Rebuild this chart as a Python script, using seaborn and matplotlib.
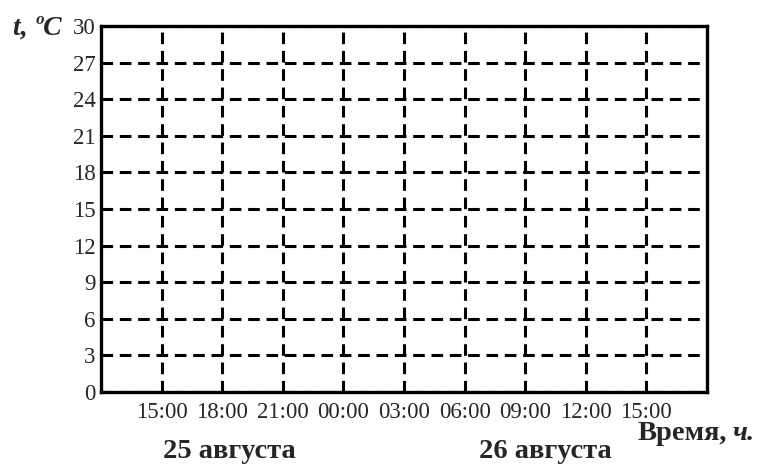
import numpy as np
import pandas as pd
import matplotlib
matplotlib.use('Agg')
import matplotlib.pyplot as plt
import seaborn as sns

# Данные графика (пустая сетка для заполнения)
time_labels = ['15:00', '18:00', '21:00', '00:00', '03:00', '06:00', '09:00', '12:00', '15:00']
time_pos = [1, 2, 3, 4, 5, 6, 7, 8, 9]
temp_ticks = [0, 3, 6, 9, 12, 15, 18, 21, 24, 27, 30]
day_labels = ['25 августа', '26 августа']
day_pos = [229, 545]  # центр подписи дня, px по горизонтали

sns.set_style('white')
plt.rcParams['font.family'] = ['Liberation Serif', 'DejaVu Serif']

fig = plt.figure(figsize=(7.61, 4.68), dpi=100)
ax = fig.add_axes([101 / 761, 1 - 392 / 468, (707 - 101) / 761, (392 - 26) / 468])

# пустой ряд температур — только сетка
df = pd.DataFrame({'Время': pd.Series(dtype=float), 't': pd.Series(dtype=float)})
sns.lineplot(data=df, x='Время', y='t', ax=ax)

ax.set_xlim(0, 10)
ax.set_ylim(0, 30)
ax.set_xticks(time_pos)
ax.set_xticklabels(time_labels, fontsize=16.5)
ax.set_yticks(temp_ticks)
ax.set_yticklabels([str(v) for v in temp_ticks], fontsize=16.5)
ax.tick_params(axis='both', length=0, pad=4)
ax.tick_params(axis='x', pad=7)
ax.set_xlabel('')
ax.set_ylabel('')

ax.grid(True, color='black', linestyle=(0, (3.8, 2.2)), linewidth=2.2)
for s in ax.spines.values():
    s.set_visible(True)
    s.set_color('black')
    s.set_linewidth(2.4)

# подписи осей
fig.text(13 / 761, 1 - 35 / 468, 't, ºC', fontsize=20, fontweight='bold', fontstyle='italic',
         ha='left', va='baseline')
fig.text(638 / 761, 1 - 440 / 468, 'Время,', fontsize=20.5, fontweight='bold',
         ha='left', va='baseline')
fig.text(733 / 761, 1 - 440 / 468, 'ч.', fontsize=20.5, fontweight='bold', fontstyle='italic',
         ha='left', va='baseline')

for lbl, x in zip(day_labels, day_pos):
    fig.text(x / 761, 1 - 458 / 468, lbl, fontsize=20.5, fontweight='bold',
             ha='center', va='baseline')

fig.savefig('out.png', dpi=100)
